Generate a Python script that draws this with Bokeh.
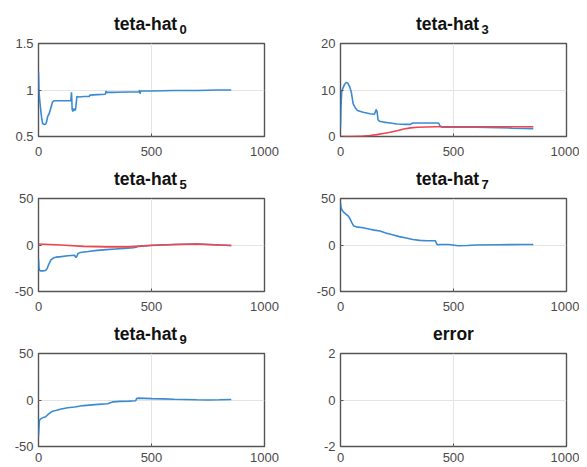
from bokeh.plotting import figure
from bokeh.models import Range1d, FixedTicker
from bokeh.layouts import row, column
from bokeh.core.properties import value
from bokeh.embed import file_html
from bokeh.resources import INLINE

# ---------------- data ----------------
X_TICKS = [0, 500, 1000]
X_TICK_LABELS = ["0", "500", "1000"]

# teta-hat_0
x0 = [0, 1, 2, 5, 10, 14, 18, 25, 32, 36, 40, 47, 55, 62, 70, 100, 143, 146, 149, 152,
      156, 160, 164, 170, 180, 200, 224, 228, 260, 296, 299, 302, 306, 340, 400, 445,
      447, 449, 452, 456, 500, 600, 700, 800, 853]
y0 = [1.19, 1.10, 1.00, 0.90, 0.78, 0.70, 0.64, 0.63, 0.635, 0.66, 0.71, 0.745, 0.81,
      0.87, 0.885, 0.885, 0.885, 0.975, 0.79, 0.77, 0.80, 0.78, 0.79, 0.93, 0.925, 0.93,
      0.93, 0.945, 0.95, 0.955, 0.99, 0.97, 0.975, 0.975, 0.978, 0.98, 1.00, 0.96, 0.985,
      0.99, 0.99, 0.995, 0.995, 1.0, 1.0]
y0_ticks = [0.5, 1, 1.5]
y0_labels = ["0.5", "1", "1.5"]

# teta-hat_3
x3 = [0, 2, 5, 10, 18, 25, 32, 40, 48, 56, 65, 75, 100, 130, 150, 158, 162, 166, 172, 190,
      220, 250, 290, 310, 320, 360, 400, 434, 440, 450, 500, 600, 700, 760, 853]
y3 = [2.0, 6.0, 9.5, 10.3, 11.2, 11.6, 11.5, 10.8, 9.5, 7.0, 6.2, 5.6, 5.2, 4.9, 4.8, 5.8,
      5.3, 3.6, 3.3, 3.1, 2.9, 2.7, 2.6, 2.6, 2.9, 2.9, 2.9, 2.9, 2.3, 2.0, 2.0, 2.0, 1.9,
      1.8, 1.7]
xr3 = [0, 50, 100, 130, 160, 190, 220, 250, 280, 310, 340, 380, 420, 500, 600, 700, 853]
yr3 = [0.0, 0.0, 0.08, 0.2, 0.4, 0.65, 0.9, 1.25, 1.6, 1.85, 2.0, 2.05, 2.1, 2.1, 2.1, 2.1, 2.1]
y3_ticks = [0, 10, 20]
y3_labels = ["0", "10", "20"]

# teta-hat_5
x5 = [0, 2, 5, 10, 20, 30, 38, 45, 55, 65, 80, 100, 130, 160, 165, 170, 175, 185, 220, 260,
      300, 340, 380, 420, 431, 440, 500, 600, 700, 800, 853]
y5 = [-15, -24, -27.5, -27.8, -27.8, -27.5, -25.5, -21, -16, -14, -13, -12.5, -11.5, -11,
      -13.5, -12, -9, -8, -7, -5.8, -5, -4.3, -3.6, -3, -2.5, -1.5, -0.5, 0.5, 1, 0, -0.5]
xr5 = [0, 100, 200, 300, 400, 450, 500, 600, 700, 780, 853]
yr5 = [1.0, 0.0, -1.5, -2.0, -2.0, -1.2, -0.3, 0.5, 1.0, 0.3, -0.5]
y5_ticks = [-50, 0, 50]
y5_labels = ["-50", "0", "50"]

# teta-hat_7
x7 = [0, 3, 8, 15, 25, 35, 42, 50, 58, 70, 100, 130, 150, 175, 200, 230, 260, 290, 320, 350,
      380, 420, 424, 428, 440, 480, 520, 560, 600, 700, 800, 853]
y7 = [45, 40, 37, 35, 33, 31, 28, 24, 20.5, 19.5, 18.5, 17, 16, 15, 13, 11, 9, 7.5, 6, 5,
      4.6, 4.5, 2, 0.3, 0.5, 0.5, -0.8, -0.5, 0, 0.3, 0.5, 0.5]
y7_ticks = [-50, 0, 50]
y7_labels = ["-50", "0", "50"]

# teta-hat_9
x9 = [0, 2, 4, 8, 15, 25, 32, 45, 62, 80, 96, 129, 160, 200, 250, 306, 330, 360, 400, 430,
      434, 440, 470, 500, 550, 600, 650, 700, 750, 800, 853]
y9 = [-39, -30, -22, -20.5, -19.5, -18.5, -18, -15, -12, -11, -10, -8.3, -7.5, -6, -5, -4,
      -2, -1.5, -1.2, -0.8, 1.5, 2, 1.8, 1.5, 1.2, 0.8, 0.5, 0.2, 0, 0.2, 0.5]
y9_ticks = [-50, 0, 50]
y9_labels = ["-50", "0", "50"]

# error (empty)
ye_ticks = [-2, 0, 2]
ye_labels = ["-2", "0", "2"]

# ---------------- styling ----------------
BLUE = "#3a8ad2"
RED = "#f0454f"
FONT = "Liberation Sans"
TICK_COLOR = "#4a4a4a"
FW, FH = 226, 93
TITLE_H = 28          # height of the title strip
TOP_PAD = 7           # border above each plot frame (room for top tick label)
MAIN_DX = -37.5       # left edge of "teta-hat" relative to frame centre (px)
SUB_DX = 28           # left edge of subscript relative to frame centre (px)
MAIN_Y = 19.7         # anchor of the title text (px above frame top)
SUB_Y = 14            # anchor of the subscript (px above frame top)


def borders(col):
    return 30, (46 if col == 0 else 13)


def title_strip(main, sub, col):
    left, right = borders(col)
    t = figure(width=left + FW + right, height=TITLE_H, title=None,
               x_range=Range1d(X_TICKS[0], X_TICKS[-1]),
               y_range=Range1d(TOP_PAD, TOP_PAD + TITLE_H),
               output_backend="svg", toolbar_location=None,
               x_axis_location=None, y_axis_location=None,
               min_border_left=left, min_border_right=right,
               min_border_top=0, min_border_bottom=0)
    t.outline_line_color = None
    t.xgrid.visible = False
    t.ygrid.visible = False
    xc = (X_TICKS[0] + X_TICKS[-1]) / 2
    if sub:
        t.text(x=[xc], y=[MAIN_Y], text=[main], text_align="left",
               text_baseline="alphabetic", x_offset=MAIN_DX,
               text_font=value(FONT), text_font_style="bold",
               text_font_size="17.5px", text_color="#111111")
        t.text(x=[xc], y=[SUB_Y], text=[sub], text_align="left",
               text_baseline="alphabetic", x_offset=SUB_DX,
               text_font=value(FONT), text_font_style="bold",
               text_font_size="13px", text_color="#111111")
    else:
        t.text(x=[xc], y=[MAIN_Y], text=[main], text_align="center",
               text_baseline="alphabetic",
               text_font=value(FONT), text_font_style="bold",
               text_font_size="17.5px", text_color="#111111")
    return t


def panel(yticks, ylabels, blue=None, red=None, col=0, last_row=False):
    left, right = borders(col)
    bottom = 21 if last_row else 27
    p = figure(width=left + FW + right, height=TOP_PAD + FH + bottom, title=None,
               x_range=Range1d(X_TICKS[0], X_TICKS[-1]),
               y_range=Range1d(yticks[0], yticks[-1]),
               output_backend="svg", toolbar_location=None,
               min_border_left=left, min_border_right=right,
               min_border_top=TOP_PAD, min_border_bottom=bottom)
    p.outline_line_color = "#555555"
    p.outline_line_width = 1.4
    p.background_fill_color = "white"
    p.border_fill_color = "white"

    p.xaxis.ticker = FixedTicker(ticks=X_TICKS)
    p.xaxis.major_label_overrides = dict(zip(X_TICKS, X_TICK_LABELS))
    p.yaxis.ticker = FixedTicker(ticks=yticks)
    p.yaxis.major_label_overrides = dict(zip(yticks, ylabels))
    for ax in (p.xaxis, p.yaxis):
        ax.axis_line_color = None
        ax.major_tick_in = 3
        ax.major_tick_out = 0
        ax.major_tick_line_color = "#555555"
        ax.minor_tick_line_color = None
        ax.major_label_text_font = FONT
        ax.major_label_text_font_size = "13px"
        ax.major_label_text_color = TICK_COLOR
    p.xaxis.major_label_standoff = 6 if last_row else 10
    p.yaxis.major_label_standoff = 5
    p.xgrid.grid_line_color = "#e4e4e4"
    p.ygrid.grid_line_color = "#e4e4e4"

    if blue is not None:
        p.line(blue[0], blue[1], line_color=BLUE, line_width=1.6)
    if red is not None:
        p.line(red[0], red[1], line_color=RED, line_width=1.6)
    return p


def cell(main, sub, yticks, ylabels, blue=None, red=None, col=0, last_row=False):
    return column(title_strip(main, sub, col),
                  panel(yticks, ylabels, blue=blue, red=red, col=col, last_row=last_row))


c1 = cell("teta-hat", "0", y0_ticks, y0_labels, blue=(x0, y0), col=0)
c2 = cell("teta-hat", "3", y3_ticks, y3_labels, blue=(x3, y3), red=(xr3, yr3), col=1)
c3 = cell("teta-hat", "5", y5_ticks, y5_labels, blue=(x5, y5), red=(xr5, yr5), col=0)
c4 = cell("teta-hat", "7", y7_ticks, y7_labels, blue=(x7, y7), col=1)
c5 = cell("teta-hat", "9", y9_ticks, y9_labels, blue=(x9, y9), col=0, last_row=True)
c6 = cell("error", "", ye_ticks, ye_labels, col=1, last_row=True)

layout = column(row(c1, c2), row(c3, c4), row(c5, c6), margin=(8, 0, 0, 8))

open("out.html", "w").write(file_html(layout, INLINE))
